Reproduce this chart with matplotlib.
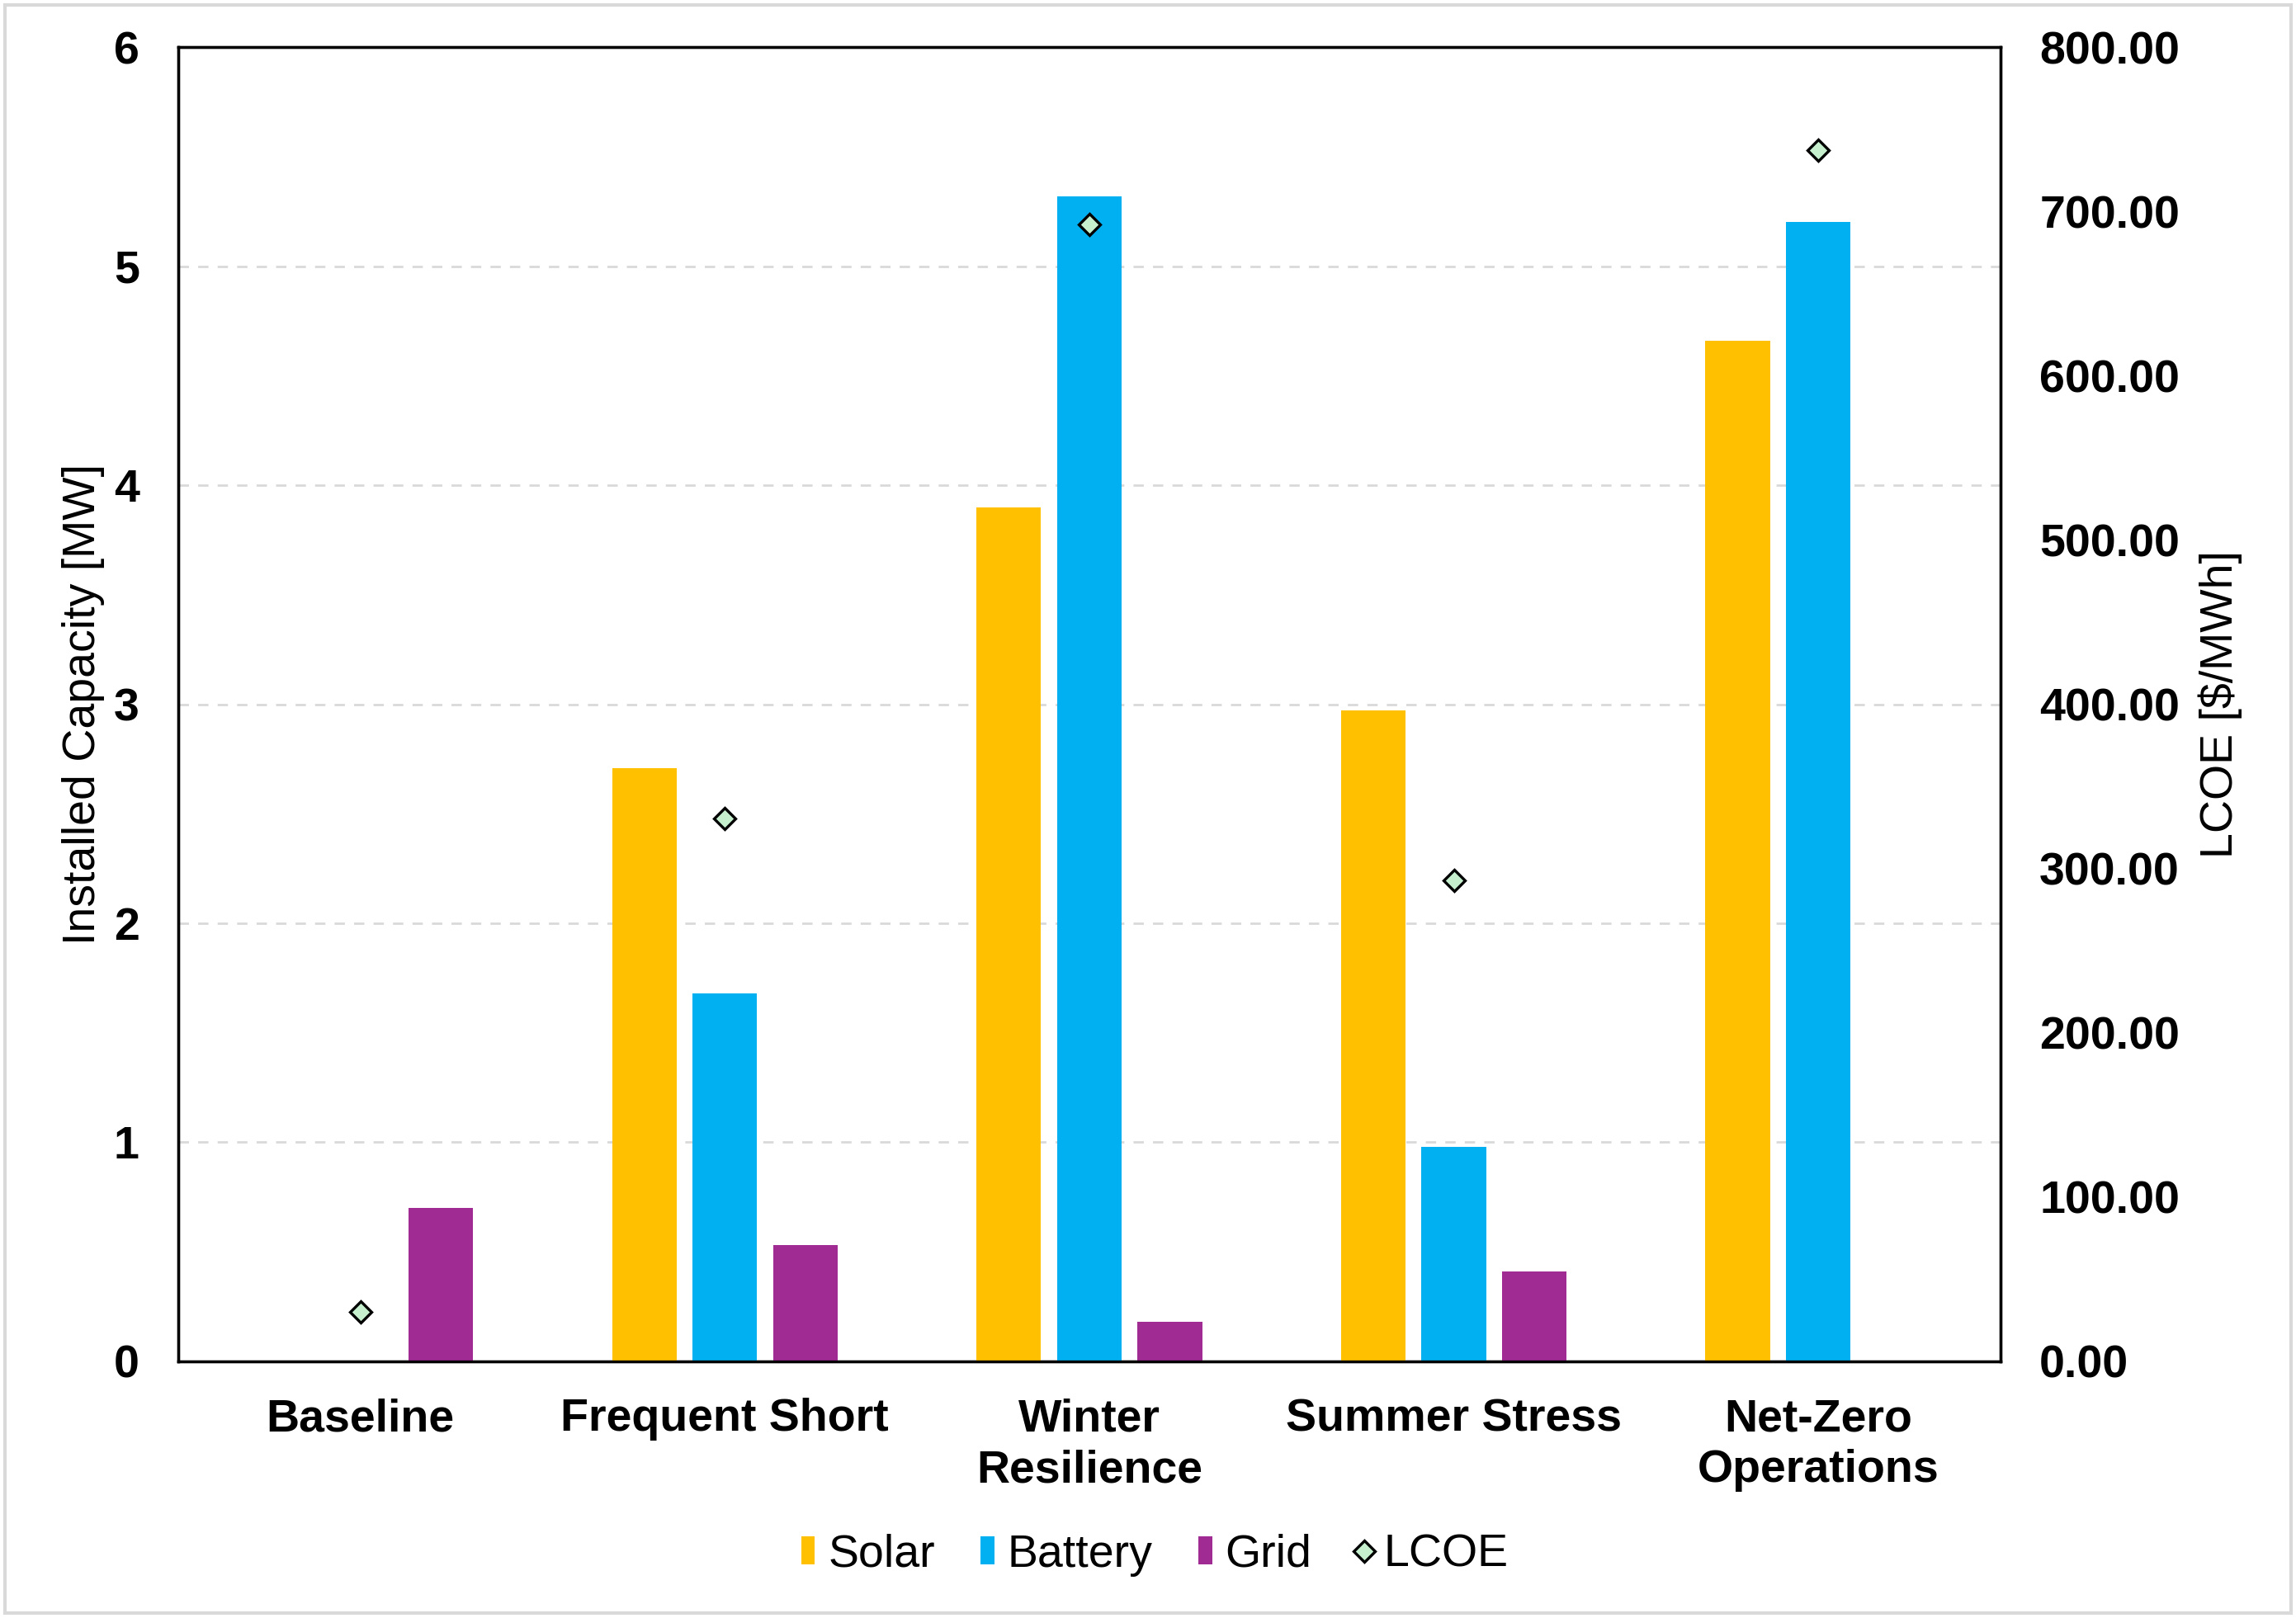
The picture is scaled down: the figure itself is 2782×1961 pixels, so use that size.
import numpy as np
import matplotlib.pyplot as plt
from matplotlib.patches import Patch, Rectangle
from matplotlib.lines import Line2D
from matplotlib.ticker import FormatStrFormatter

plt.rcParams['font.family'] = ['Liberation Sans', 'DejaVu Sans']

# data
scenarios = ["Baseline", "Frequent Short", "Winter\nResilience", "Summer Stress", "Net-Zero\nOperations"]
solar = [0.0, 2.71, 3.90, 2.97, 4.66]
battery = [0.0, 1.68, 5.32, 0.98, 5.20]
grid = [0.70, 0.53, 0.18, 0.41, 0.0]
lcoe = [30.3, 330.5, 692.0, 293.0, 737.5]

c_solar = "#FFC000"
c_battery = "#00B0F0"
c_grid = "#A02B93"

fig = plt.figure(figsize=(13.91, 9.805), dpi=200)
ax = fig.add_axes([0.0776, 0.1586, 0.7937, 0.8123])
ax2 = ax.twinx()

x = np.arange(len(scenarios))
w = 0.177
off = 0.221
ax.bar(x - off, solar, w, color=c_solar, zorder=3)
ax.bar(x, battery, w, color=c_battery, zorder=3)
ax.bar(x + off, grid, w, color=c_grid, zorder=3)

ax2.plot(x, lcoe, linestyle="none", marker="D", markersize=6.5,
         markerfacecolor="#C6EFCE", markeredgecolor="black", markeredgewidth=1.2, zorder=4)

ax.set_xlim(-0.5, len(scenarios) - 0.5)
ax.set_ylim(0, 6)
ax2.set_ylim(0, 800)
ax.set_yticks(range(0, 7))
ax2.set_yticks(range(0, 801, 100))
ax2.yaxis.set_major_formatter(FormatStrFormatter("%.2f"))

ax.yaxis.grid(True, color="#D9D9D9", linestyle=(0, (4.5, 4)), linewidth=1.0, zorder=0)
ax.set_axisbelow(True)

ax.set_xticks(x)
ax.set_xticklabels(scenarios, fontsize=20, fontweight="bold", linespacing=1.25)
ax.tick_params(axis="x", length=0, pad=16)
ax.tick_params(axis="y", length=0, pad=17, labelsize=20)
ax2.tick_params(axis="y", length=0, pad=17, labelsize=20)
for lab in ax.get_yticklabels() + ax2.get_yticklabels():
    lab.set_fontweight("bold")

ax.set_ylabel("Installed Capacity [MW]", fontsize=20, labelpad=4)
ax2.set_ylabel("LCOE [$/MWh]", fontsize=20, labelpad=8)

for a in (ax, ax2):
    for s in a.spines.values():
        s.set_linewidth(1.2)
        s.set_color("black")

handles = [
    Patch(facecolor=c_solar, label="Solar"),
    Patch(facecolor=c_battery, label="Battery"),
    Patch(facecolor=c_grid, label="Grid"),
    Line2D([], [], linestyle="none", marker="D", markersize=6.5, markerfacecolor="#C6EFCE",
           markeredgecolor="black", markeredgewidth=1.2, label="LCOE"),
]
fig.legend(handles=handles, loc="center", bbox_to_anchor=(0.503, 0.039), ncol=4, frameon=False,
           fontsize=20, handlelength=0.3, handleheight=0.55, handletextpad=0.28, columnspacing=1.0)

fig.patches.append(Rectangle((0.002, 0.003), 0.996, 0.994, transform=fig.transFigure,
                             fill=False, edgecolor="#D9D9D9", linewidth=1.5))

fig.savefig("out.png", dpi=200)
